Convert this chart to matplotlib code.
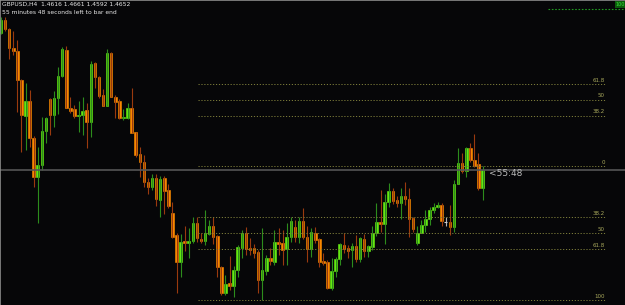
import numpy as np
import matplotlib
matplotlib.use("Agg")
from matplotlib import pyplot as plt

# GBPUSD H4 candles (oldest first)
opens = [1.4926, 1.4952, 1.4934, 1.4896, 1.4890, 1.4832, 1.4760, 1.4790, 1.4716, 1.4638,
         1.4662, 1.4730, 1.4794, 1.4762, 1.4796, 1.4840, 1.4892, 1.4776, 1.4774, 1.4760,
         1.4762, 1.4772, 1.4748, 1.4866, 1.4838, 1.4802, 1.4780, 1.4886, 1.4798, 1.4790,
         1.4756, 1.4756, 1.4776, 1.4728, 1.4684, 1.4668, 1.4628, 1.4618, 1.4636, 1.4592,
         1.4636, 1.4612, 1.4566, 1.4522, 1.4468, 1.4510, 1.4506, 1.4510, 1.4546, 1.4514,
         1.4510, 1.4524, 1.4540, 1.4520, 1.4458, 1.4406, 1.4426, 1.4420, 1.4452, 1.4496,
         1.4526, 1.4496, 1.4496, 1.4488, 1.4432, 1.4450, 1.4476, 1.4468, 1.4508, 1.4506,
         1.4494, 1.4518, 1.4538, 1.4518, 1.4550, 1.4518, 1.4494, 1.4526, 1.4514, 1.4470,
         1.4468, 1.4416, 1.4450, 1.4474, 1.4502, 1.4496, 1.4492, 1.4500, 1.4474, 1.4514,
         1.4490, 1.4498, 1.4526, 1.4548, 1.4544, 1.4588, 1.4610, 1.4592, 1.4586, 1.4600,
         1.4594, 1.4556, 1.4506, 1.4526, 1.4542, 1.4554, 1.4572, 1.4578, 1.4582, 1.4548,
         1.4548, 1.4538, 1.4624, 1.4666, 1.4650, 1.4696, 1.4672, 1.4664, 1.4616]
highs = [1.4958, 1.4958, 1.4936, 1.4930, 1.4912, 1.4834, 1.4826, 1.4812, 1.4720, 1.4698,
         1.4758, 1.4758, 1.4796, 1.4810, 1.4858, 1.4898, 1.4900, 1.4798, 1.4782, 1.4790,
         1.4798, 1.4786, 1.4870, 1.4868, 1.4840, 1.4814, 1.4894, 1.4888, 1.4802, 1.4794,
         1.4774, 1.4786, 1.4816, 1.4728, 1.4698, 1.4682, 1.4636, 1.4644, 1.4644, 1.4640,
         1.4640, 1.4624, 1.4588, 1.4526, 1.4524, 1.4540, 1.4536, 1.4558, 1.4558, 1.4526,
         1.4572, 1.4552, 1.4558, 1.4522, 1.4460, 1.4442, 1.4480, 1.4460, 1.4502, 1.4532,
         1.4538, 1.4516, 1.4504, 1.4492, 1.4536, 1.4482, 1.4496, 1.4532, 1.4536, 1.4532,
         1.4546, 1.4558, 1.4552, 1.4558, 1.4576, 1.4540, 1.4536, 1.4538, 1.4516, 1.4486,
         1.4472, 1.4476, 1.4478, 1.4506, 1.4526, 1.4502, 1.4506, 1.4522, 1.4518, 1.4524,
         1.4502, 1.4540, 1.4586, 1.4612, 1.4604, 1.4626, 1.4616, 1.4600, 1.4616, 1.4628,
         1.4616, 1.4558, 1.4540, 1.4552, 1.4572, 1.4578, 1.4586, 1.4588, 1.4586, 1.4558,
         1.4582, 1.4632, 1.4696, 1.4686, 1.4698, 1.4706, 1.4724, 1.4686, 1.4661]
lows = [1.4924, 1.4930, 1.4874, 1.4882, 1.4768, 1.4688, 1.4692, 1.4698, 1.4618, 1.4546,
        1.4652, 1.4706, 1.4722, 1.4738, 1.4764, 1.4838, 1.4776, 1.4766, 1.4756, 1.4728,
        1.4722, 1.4696, 1.4718, 1.4816, 1.4796, 1.4780, 1.4780, 1.4798, 1.4756, 1.4754,
        1.4752, 1.4754, 1.4726, 1.4678, 1.4638, 1.4618, 1.4604, 1.4612, 1.4580, 1.4558,
        1.4564, 1.4576, 1.4516, 1.4406, 1.4438, 1.4490, 1.4476, 1.4506, 1.4508, 1.4506,
        1.4502, 1.4522, 1.4504, 1.4438, 1.4402, 1.4402, 1.4412, 1.4398, 1.4438, 1.4476,
        1.4482, 1.4482, 1.4476, 1.4406, 1.4392, 1.4442, 1.4462, 1.4462, 1.4482, 1.4462,
        1.4462, 1.4508, 1.4508, 1.4506, 1.4514, 1.4468, 1.4478, 1.4506, 1.4458, 1.4462,
        1.4414, 1.4412, 1.4438, 1.4462, 1.4486, 1.4476, 1.4458, 1.4468, 1.4468, 1.4478,
        1.4478, 1.4492, 1.4520, 1.4528, 1.4504, 1.4578, 1.4584, 1.4578, 1.4554, 1.4582,
        1.4518, 1.4528, 1.4502, 1.4526, 1.4528, 1.4542, 1.4566, 1.4576, 1.4540, 1.4540,
        1.4522, 1.4528, 1.4624, 1.4646, 1.4638, 1.4668, 1.4658, 1.4612, 1.4592]
closes = [1.4952, 1.4934, 1.4896, 1.4890, 1.4832, 1.4762, 1.4790, 1.4716, 1.4638, 1.4662,
          1.4730, 1.4756, 1.4762, 1.4796, 1.4840, 1.4894, 1.4776, 1.4770, 1.4760, 1.4762,
          1.4770, 1.4748, 1.4864, 1.4838, 1.4800, 1.4780, 1.4886, 1.4798, 1.4788, 1.4756,
          1.4758, 1.4776, 1.4726, 1.4682, 1.4668, 1.4628, 1.4618, 1.4636, 1.4594, 1.4634,
          1.4610, 1.4580, 1.4518, 1.4468, 1.4508, 1.4506, 1.4510, 1.4546, 1.4516, 1.4510,
          1.4526, 1.4540, 1.4518, 1.4458, 1.4406, 1.4424, 1.4420, 1.4452, 1.4498, 1.4526,
          1.4494, 1.4492, 1.4486, 1.4432, 1.4452, 1.4476, 1.4470, 1.4508, 1.4504, 1.4492,
          1.4518, 1.4550, 1.4518, 1.4550, 1.4518, 1.4494, 1.4528, 1.4512, 1.4468, 1.4466,
          1.4416, 1.4450, 1.4474, 1.4504, 1.4494, 1.4490, 1.4500, 1.4474, 1.4516, 1.4490,
          1.4500, 1.4526, 1.4548, 1.4544, 1.4588, 1.4610, 1.4590, 1.4586, 1.4600, 1.4594,
          1.4554, 1.4534, 1.4526, 1.4542, 1.4554, 1.4572, 1.4578, 1.4582, 1.4550, 1.4548,
          1.4538, 1.4624, 1.4666, 1.4650, 1.4696, 1.4672, 1.4660, 1.4616, 1.4652]

# fibonacci levels drawn on the chart
fib_low_labels = ["0", "38.2", "50", "61.8", "100"]
fib_low_prices = [1.4660, 1.4558, 1.4526, 1.4494, 1.4392]
fib_up_labels = ["38.2", "50", "61.8"]
fib_up_prices = [1.4761, 1.4793, 1.4824]
bid = 1.4652
top_level = 1.4975

header = "GBPUSD,H4  1.4616 1.4661 1.4592 1.4652"
timer_text = "55 minutes 48 seconds left to bar end"
timer_label = "<55:48"

narrow = ["Liberation Sans Narrow", "DejaVu Sans"]
bg = "#060608"

fig = plt.figure(figsize=(6.25, 3.05), dpi=100, facecolor=bg)
ax = fig.add_axes([0, 0, 1, 1], facecolor=bg)

o = np.array(opens)
h = np.array(highs)
l = np.array(lows)
c = np.array(closes)
x = np.arange(len(o))
up = c > o
dn = c < o
flat = c == o

# wicks first, bodies on top
ax.vlines(x[up], l[up], h[up], color="#2c8c1c", lw=0.8)
ax.vlines(x[dn], l[dn], h[dn], color="#9a3a0e", lw=0.8)
ax.vlines(x[flat], l[flat], h[flat], color="#b4b4b4", lw=0.8)
ax.bar(x[up], (c - o)[up], bottom=o[up], width=0.62,
       color="#68ee12", edgecolor="#68ee12", lw=0.4)
ax.bar(x[dn], (o - c)[dn], bottom=c[dn], width=0.62,
       color="#ff8c00", edgecolor="#ff8c00", lw=0.4)
ax.hlines(c[flat], x[flat] - 0.35, x[flat] + 0.35, color="#d0d0d0", lw=0.8)

# fib levels
fib_x0, fib_x1 = 48.3, 148.0
for lab, p in zip(fib_low_labels + fib_up_labels, fib_low_prices + fib_up_prices):
    ax.hlines(p, fib_x0, fib_x1, colors="#7d7d3a", linestyles=(0, (1.2, 1.8)), lw=0.7)
    ax.text(fib_x1, p + 0.0003, lab, ha="right", va="bottom", fontsize=4,
            color="#a8a85c", family=narrow)

# green line at the top right
ax.hlines(top_level, 134.1, 153, colors="#1f9a1f", linestyles=(0, (1.5, 1.5)), lw=0.8)
ax.text(152.9, 1.4983, "100", ha="right", va="center", fontsize=3.5, color="#3ae03a",
        family=narrow, bbox=dict(facecolor="#0b5c0b", edgecolor="none", pad=0.4))

# bid line and bar timer
ax.axhline(bid, color="#555555", lw=1.2)
ax.text(119.6, 1.4646, timer_label, ha="left", va="center", fontsize=6.5,
        color="#bcbcbc", family=narrow)

fig.text(0.004, 0.995, header, ha="left", va="top", fontsize=4.3,
         color="#e8e8e8", family=narrow)
fig.text(0.004, 0.968, timer_text, ha="left", va="top", fontsize=4.3,
         color="#e8e8e8", family=narrow)

ax.set_xlim(-0.25, 152.9)
ax.set_ylim(1.4382, 1.4992)
ax.set_xticks([])
ax.set_yticks([])
for side in ["right", "bottom"]:
    ax.spines[side].set_visible(False)
for side in ["left", "top"]:
    ax.spines[side].set_color("#8c8c8c")
    ax.spines[side].set_linewidth(1.2)

fig.savefig("out.png", dpi=100, facecolor=bg)
